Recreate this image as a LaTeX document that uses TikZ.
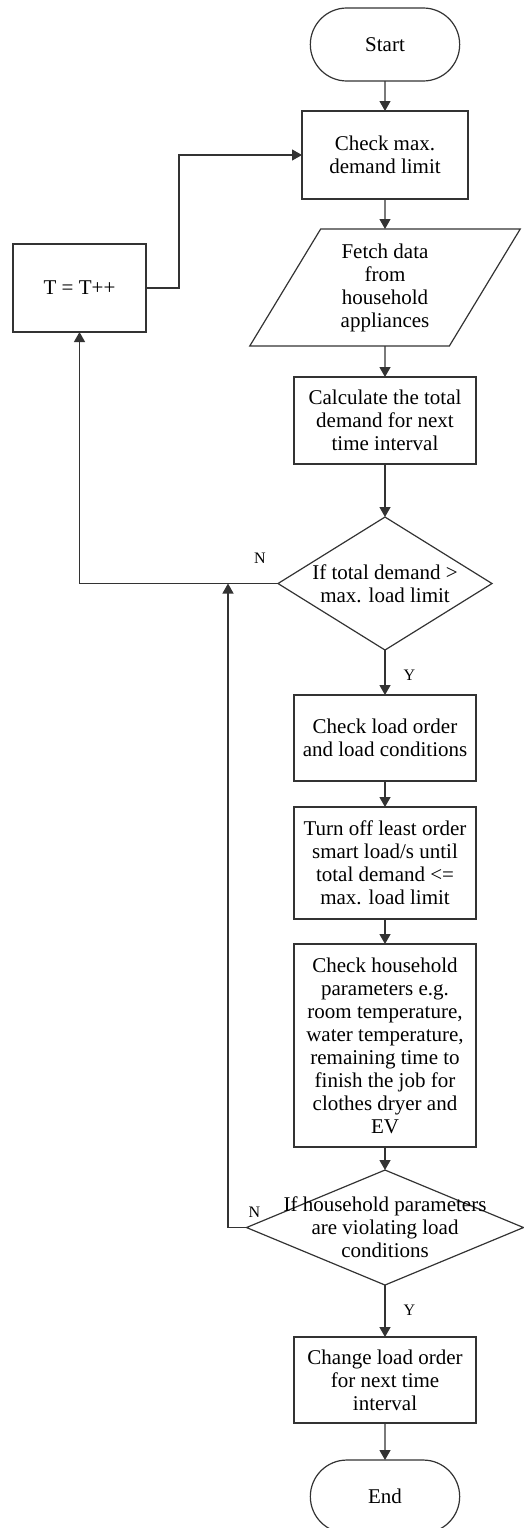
\documentclass[tikz,border=0pt]{standalone}
\usepackage{fontspec}
\setmainfont{Liberation Serif}
\usetikzlibrary{arrows.meta,positioning,shapes.geometric,shapes.misc}

\begin{document}
\begin{tikzpicture}[x=1pt,y=-1pt,>={Triangle[length=10pt,width=11pt]},node distance=30pt,
  every node/.style={font=\fontsize{21}{23}\selectfont},
  term/.style={draw=black!80,line width=1.2pt,outer sep=0pt,rounded rectangle,minimum width=156pt,minimum height=73pt},
  proc/.style={draw=black!80,line width=1.2pt,outer sep=0pt,align=center,minimum width=182pt,inner sep=3pt},
  io/.style={draw=black!80,line width=1.2pt,outer sep=0pt,align=center,trapezium,trapezium left angle=61,trapezium right angle=119,trapezium stretches=true,minimum width=271pt,minimum height=117pt,inner sep=2pt},
  decision/.style={draw=black!80,line width=1.2pt,outer sep=0pt,diamond,inner sep=0pt},
  dtext/.style={align=center,inner sep=0pt},
  lbl/.style={font=\fontsize{16}{18}\selectfont,inner sep=0pt},
  arr/.style={->,draw=black!80,line width=1.2pt}]
\useasboundingbox (0,0) rectangle (523,1528);

% main column
\node[term] (start) at (385,44.5) {Start};
\node[proc,minimum width=166pt,minimum height=88pt,below=30pt of start] (chk) {Check max.\\demand limit};
\node[io,below=30pt of chk] (fetch) {Fetch data\\from\\household\\appliances};
\node[proc,minimum height=87pt,below=31pt of fetch] (calc) {Calculate the total\\demand for next\\time interval};
\node[decision,minimum width=214pt,minimum height=133pt,below=53pt of calc] (dec1) {};
\node[dtext] (dec1txt) at (dec1) {If total demand >\\max. load limit};
\node[proc,minimum height=86pt,below=45pt of dec1] (lorder) {Check load order\\and load conditions};
\node[proc,minimum height=112pt,below=26pt of lorder] (turnoff) {Turn off least order\\smart load/s until\\total demand <=\\max. load limit};
\node[proc,minimum height=203pt,below=25pt of turnoff] (hparam) {Check household\\parameters e.g.\\room temperature,\\water temperature,\\remaining time to\\finish the job for\\clothes dryer and\\EV};
\node[decision,minimum width=277pt,minimum height=115pt,below=23pt of hparam] (dec2) {};
\node[dtext] (dec2txt) at (dec2) {If household parameters\\are violating load\\conditions};
\node[proc,minimum height=86pt,below=52pt of dec2] (change) {Change load order\\for next time\\interval};
\node[term,below=37pt of change] (stop) {End};

% loop box
\node[proc,minimum width=133pt,minimum height=88pt] (tinc) at (79.5,288) {T = T++};
\coordinate (up) at (179,288);
\coordinate (join) at (228,583.5);

\draw[arr] (start) -- (chk);
\draw[arr] (chk) -- (fetch);
\draw[arr] (fetch) -- (calc);
\draw[arr] (calc) -- (dec1);
\draw[arr] (dec1) -- node[lbl,pos=0.55,right=18pt]{Y} (lorder);
\draw[arr] (lorder) -- (turnoff);
\draw[arr] (turnoff) -- (hparam);
\draw[arr] (hparam) -- (dec2);
\draw[arr] (dec2) -- node[lbl,pos=0.48,right=18pt]{Y} (change);
\draw[arr] (change) -- (stop);

\draw[arr] (dec1.west) -| (tinc.south);
\draw[arr] (tinc.east) -- (up) |- (chk.west);
\draw[arr] (dec2.west) -| (join);
\node[lbl,above left=20pt and 12pt of dec1.west] (n1) {N};
\node[lbl,above right=10pt and 2pt of dec2.west] (n2) {N};
\end{tikzpicture}
\end{document}
